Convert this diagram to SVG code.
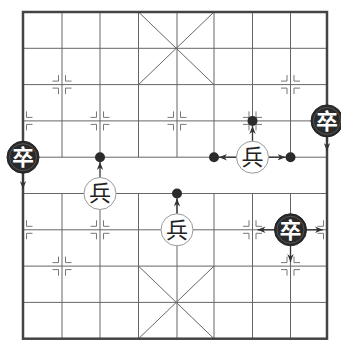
<svg xmlns="http://www.w3.org/2000/svg" xmlns:xlink="http://www.w3.org/1999/xlink" width="341" height="340" viewBox="0 0 341 340">
<style>
.grid{stroke:#666;stroke-width:1;fill:none}
.border{stroke:#444;stroke-width:2.5;fill:none}
.mark{stroke:#777;stroke-width:1;fill:none}
.conn{stroke:#333;stroke-width:1.3;fill:none}
.dot{fill:#2b2b2b}
.red{fill:#fff;stroke:#999;stroke-width:1}
.blk{fill:#2a2a2a;stroke:#222;stroke-width:1}
.ring{fill:none;stroke:#666;stroke-width:0.7}
.tw{font-family:"Noto Sans CJK SC","Noto Sans CJK JP",sans-serif;font-size:22px;text-anchor:middle}
.tb{fill:#fff;font-weight:bold}
.tr{fill:#222}
</style>
<defs>
<marker id="ah" viewBox="0 0 10 8" refX="10" refY="4" markerWidth="8" markerHeight="7" markerUnits="userSpaceOnUse" orient="auto">
<path d="M0,0 L10,4 L0,8 L3,4 Z" fill="#333"/>
</marker>
<g id="mL"><path class="mark" d="M-9.5,-3.5 H-3.5 V-9.5 M-9.5,3.5 H-3.5 V9.5"/></g>
<g id="mR"><path class="mark" d="M9.5,-3.5 H3.5 V-9.5 M9.5,3.5 H3.5 V9.5"/></g>
<g id="mF"><use xlink:href="#mL"/><use xlink:href="#mR"/></g>
</defs>
<rect width="341" height="340" fill="#fff"/>
<g id="board">
<path class="grid" d="M23,48.3H327M23,84.6H327M23,120.9H327M23,157.2H327M23,193.5H327M23,229.8H327M23,266.1H327M23,302.4H327"/>
<path class="grid" d="M62,12V157.2M100,12V157.2M138.5,12V157.2M177,12V157.2M214,12V157.2M252.5,12V157.2M290.5,12V157.2"/>
<path class="grid" d="M62,193.5V338.7M100,193.5V338.7M138.5,193.5V338.7M177,193.5V338.7M214,193.5V338.7M252.5,193.5V338.7M290.5,193.5V338.7"/>
<path class="grid" d="M138.5,12L214,84.6M214,12L138.5,84.6M138.5,266.1L214,338.7M214,266.1L138.5,338.7"/>
<rect class="border" x="23" y="12" width="304" height="326.7"/>
</g>
<g id="marks">
<use xlink:href="#mF" x="62" y="84.6"/>
<use xlink:href="#mF" x="290.5" y="84.6"/>
<use xlink:href="#mR" x="23" y="120.9"/>
<use xlink:href="#mF" x="100" y="120.9"/>
<use xlink:href="#mF" x="177" y="120.9"/>
<use xlink:href="#mF" x="252.5" y="120.9"/>
<use xlink:href="#mL" x="327" y="120.9"/>
<use xlink:href="#mR" x="23" y="229.8"/>
<use xlink:href="#mF" x="100" y="229.8"/>
<use xlink:href="#mF" x="177" y="229.8"/>
<use xlink:href="#mF" x="252.5" y="229.8"/>
<use xlink:href="#mL" x="327" y="229.8"/>
<use xlink:href="#mF" x="62" y="266.1"/>
<use xlink:href="#mF" x="290.5" y="266.1"/>
</g>
<g id="connectors">
<line class="conn" x1="23" y1="173" x2="23" y2="189" marker-end="url(#ah)"/>
<line class="conn" x1="100" y1="177" x2="100" y2="162" marker-end="url(#ah)"/>
<line class="conn" x1="177" y1="214" x2="177" y2="198.5" marker-end="url(#ah)"/>
<line class="conn" x1="236.5" y1="157.2" x2="219" y2="157.2" marker-end="url(#ah)"/>
<line class="conn" x1="268.5" y1="157.2" x2="285.5" y2="157.2" marker-end="url(#ah)"/>
<line class="conn" x1="252.5" y1="141" x2="252.5" y2="126" marker-end="url(#ah)"/>
<line class="conn" x1="327" y1="137" x2="327" y2="151" marker-end="url(#ah)"/>
<line class="conn" x1="274.5" y1="229.8" x2="257.5" y2="229.8" marker-end="url(#ah)"/>
<line class="conn" x1="306.5" y1="229.8" x2="323" y2="229.8" marker-end="url(#ah)"/>
<line class="conn" x1="290.5" y1="246" x2="290.5" y2="262" marker-end="url(#ah)"/>
</g>
<g id="dots">
<circle class="dot" cx="100" cy="157.2" r="5"/>
<circle class="dot" cx="177" cy="193.5" r="5"/>
<circle class="dot" cx="214" cy="157.2" r="5"/>
<circle class="dot" cx="290.5" cy="157.2" r="5"/>
<circle class="dot" cx="252.5" cy="120.9" r="5"/>
</g>
<g id="bing1"><circle class="red" cx="100" cy="193.5" r="16"/><text class="tw tr" x="100" y="201.2">兵</text></g>
<g id="bing2"><circle class="red" cx="177" cy="229.8" r="16"/><text class="tw tr" x="177" y="237.5">兵</text></g>
<g id="bing3"><circle class="red" cx="252.5" cy="157.2" r="16"/><text class="tw tr" x="252.5" y="164.9">兵</text></g>
<g id="zu1"><circle class="blk" cx="23" cy="157.2" r="16"/><circle class="ring" cx="23" cy="157.2" r="13.5"/><text class="tw tb" x="23" y="164.9">卒</text></g>
<g id="zu2"><circle class="blk" cx="327" cy="120.9" r="16"/><circle class="ring" cx="327" cy="120.9" r="13.5"/><text class="tw tb" x="327" y="128.6">卒</text></g>
<g id="zu3"><circle class="blk" cx="290.5" cy="229.8" r="16"/><circle class="ring" cx="290.5" cy="229.8" r="13.5"/><text class="tw tb" x="290.5" y="237.5">卒</text></g>
</svg>
